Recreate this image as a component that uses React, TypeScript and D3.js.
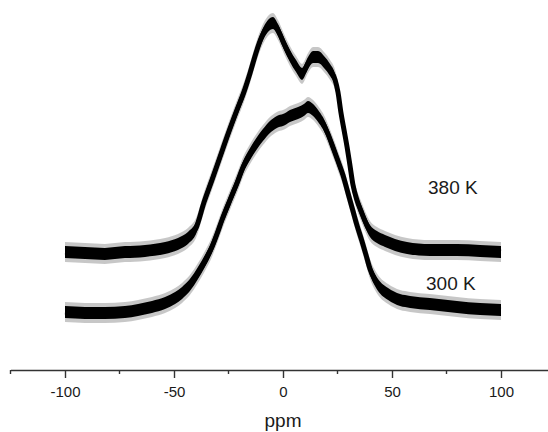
import React, { useEffect, useRef } from "react";
import * as d3 from "d3";

// chemical shift (ppm) and intensity (a.u.)
const ppm380 = [-100.0, -90.8, -81.7, -72.5, -63.3, -54.1, -48.2, -43.6, -39.9, -36.2, -32.6, -28.9, -25.2, -21.1, -17.9, -15.1, -12.4, -9.6, -6.9, -4.6, -2.3, 0.5, 3.2, 6.0, 8.7, 11.5, 13.8, 16.1, 18.8, 21.6, 23.9, 25.2, 26.6, 28.0, 29.4, 30.7, 32.1, 33.9, 35.8, 37.6, 39.9, 43.1, 46.8, 51.4, 56.9, 67.4, 79.8, 90.4, 100.0];
const int380 = [23.3, 23.0, 22.7, 23.3, 23.7, 24.7, 26.0, 28.0, 31.3, 40.0, 47.3, 55.0, 62.7, 70.7, 76.7, 83.0, 89.7, 95.3, 98.7, 99.7, 97.3, 92.7, 88.7, 85.3, 82.7, 86.3, 88.3, 88.3, 86.7, 84.0, 80.7, 76.7, 69.7, 64.0, 58.3, 52.3, 45.7, 40.7, 37.0, 33.7, 30.3, 28.3, 27.0, 25.7, 24.7, 24.0, 24.0, 23.7, 23.3];

const ppm300 = [-100.0, -90.8, -81.7, -72.5, -66.5, -60.1, -54.1, -49.5, -46.3, -42.7, -39.0, -35.8, -32.6, -30.3, -28.0, -24.3, -21.1, -18.3, -15.1, -11.9, -9.2, -6.0, -2.8, 0.0, 3.2, 6.9, 9.6, 11.5, 13.8, 16.1, 18.3, 20.6, 22.9, 25.2, 27.5, 29.8, 32.1, 33.9, 36.2, 38.1, 39.9, 42.2, 44.5, 48.2, 53.7, 58.3, 67.4, 79.8, 90.4, 100.0];
const int300 = [3.3, 3.0, 3.0, 3.3, 4.0, 5.0, 6.3, 8.0, 9.7, 12.3, 16.3, 20.3, 25.0, 29.3, 34.0, 40.7, 46.3, 51.7, 56.0, 59.7, 62.3, 65.0, 66.7, 67.3, 68.7, 69.7, 70.7, 71.7, 70.7, 68.7, 66.3, 62.7, 58.3, 53.7, 49.0, 43.0, 37.0, 32.3, 27.0, 22.3, 17.7, 14.0, 11.5, 9.3, 7.3, 6.7, 6.0, 5.0, 4.3, 4.0];

const majorTicks = [-100, -50, 0, 50, 100];
const minorTicks = [-125, -75, -25, 25, 75, 125];
const seriesLabels = ["380 K", "300 K"];
const xTitle = "ppm";

const W = 548;
const H = 432;
const FONT = "'Liberation Sans', Arial, Helvetica, sans-serif";

export default function App() {
  const axisRef = useRef<SVGGElement>(null);

  const x = d3.scaleLinear().domain([-125, 125]).range([10.5, 555.5]);
  const y = d3.scaleLinear().domain([0, 100]).range([322, 22]);

  const series = [
    { ppm: ppm380, val: int380 },
    { ppm: ppm300, val: int300 },
  ];

  const line = d3
    .line<[number, number]>()
    .x((d) => x(d[0]))
    .y((d) => y(d[1]))
    .curve(d3.curveMonotoneX);

  const band = (h: number) =>
    d3
      .area<[number, number]>()
      .x((d) => x(d[0]))
      .y0((d) => y(d[1]) - h)
      .y1((d) => y(d[1]) + h)
      .curve(d3.curveMonotoneX);

  useEffect(() => {
    if (!axisRef.current) return;
    const g = d3.select(axisRef.current);
    g.selectAll("*").remove();
    const major = d3
      .axisBottom(x)
      .tickValues(majorTicks)
      .tickSize(8)
      .tickSizeOuter(0)
      .tickPadding(8)
      .tickFormat((d) => String(d));
    g.call(major);
    g.select(".domain").attr("stroke", "#333").attr("stroke-width", 1.6);
    g.selectAll(".tick line").attr("stroke", "#333").attr("stroke-width", 1.4);
    g.selectAll(".tick text")
      .attr("fill", "#1a1a1a")
      .style("font-family", FONT)
      .style("font-size", "15px");
    const minor = g.append("g");
    minor
      .selectAll("line")
      .data(minorTicks)
      .join("line")
      .attr("x1", (d) => x(d))
      .attr("x2", (d) => x(d))
      .attr("y1", 0)
      .attr("y2", 4)
      .attr("stroke", "#333")
      .attr("stroke-width", 1.4);
  }, []);

  return (
    <svg
      width={W}
      height={H}
      style={{ position: "absolute", left: 0, top: 0, background: "#fff" }}
    >
      {series.map((s, i) => {
        const pts = s.ppm.map((p, k) => [p, s.val[k]] as [number, number]);
        return (
          <g key={i}>
            <path d={band(10)(pts) || ""} fill="#000" opacity={0.22} />
            <path d={band(6)(pts) || ""} fill="#000" />
            <path d={line(pts) || ""} fill="none" stroke="#000" strokeWidth={5} strokeLinejoin="round" />
          </g>
        );
      })}
      <text x={428} y={194} fontFamily={FONT} fontSize={19} fill="#1a1a1a">
        {seriesLabels[0]}
      </text>
      <text x={426} y={290} fontFamily={FONT} fontSize={19} fill="#1a1a1a">
        {seriesLabels[1]}
      </text>
      <g ref={axisRef} transform="translate(0,370)" />
      <text x={x(0)} y={427} textAnchor="middle" fontFamily={FONT} fontSize={19} fill="#1a1a1a">
        {xTitle}
      </text>
    </svg>
  );
}
